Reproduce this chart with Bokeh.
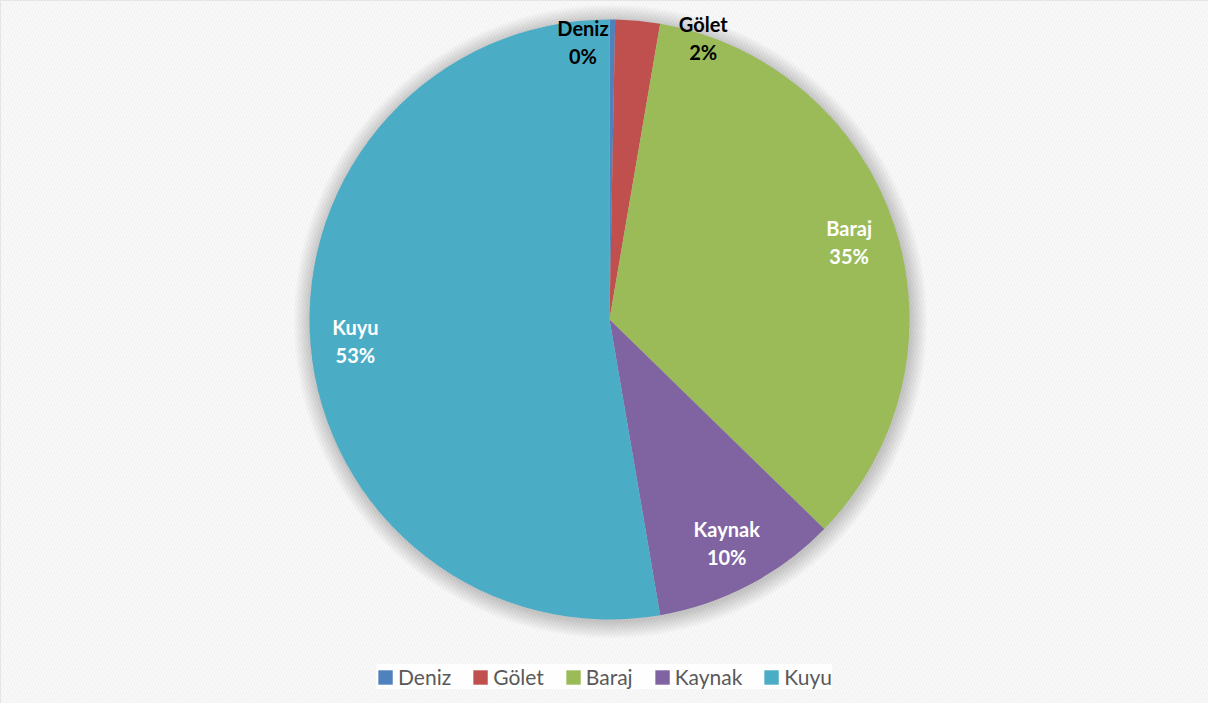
import math
from bokeh.plotting import figure
from bokeh.models import ColumnDataSource, Legend, LegendItem
from bokeh.core.properties import value
from bokeh.embed import file_html
from bokeh.resources import INLINE

# ---- data ----
categories = ["Deniz", "Gölet", "Baraj", "Kaynak", "Kuyu"]
shares = [0.3, 2.4, 34.6, 10.0, 52.7]
colors = ["#4F81BD", "#C0504D", "#9BBB59", "#8064A2", "#4BACC6"]

# label placement (fraction of radius, angular nudge in degrees)
label_rfrac = [0.93, 0.99, 0.84, 0.84, 0.85]
label_nudge = [-6.0, 13.0, 0.0, 0.0, 0.0]
label_colors = ["#000000", "#000000", "#FFFFFF", "#FFFFFF", "#FFFFFF"]

W, H = 1208, 703
CX, CY, R = 609, 384, 300

total = sum(shares)
starts, ends, lx, ly, pct = [], [], [], [], []
cum = 0.0
for i, s in enumerate(shares):
    a0 = math.pi / 2 - 2 * math.pi * cum / total
    cum += s
    a1 = math.pi / 2 - 2 * math.pi * cum / total
    starts.append(a0)
    ends.append(a1)
    mid = (a0 + a1) / 2 - math.radians(label_nudge[i])
    lx.append(CX + R * label_rfrac[i] * math.cos(mid))
    ly.append(CY + R * label_rfrac[i] * math.sin(mid))
    pct.append(f"{round(100 * s / total)}%")

src = ColumnDataSource(dict(name=categories, start=starts, end=ends,
                            color=colors, lx=lx, ly=ly, pct=pct,
                            tc=label_colors,
                            x=[CX] * 5, y=[CY] * 5))

p = figure(width=W, height=H, x_range=(0, W), y_range=(0, H),
           output_backend="svg", toolbar_location=None,
           min_border=0)
p.axis.visible = False
p.grid.visible = False
p.outline_line_color = "#D9D9D9"
p.background_fill_color = "white"
p.border_fill_color = "white"

# hatched background
p.quad(left=[0], right=[W], bottom=[0], top=[H], fill_color="white",
       line_color=None, hatch_pattern="left_diagonal_line",
       hatch_color="#F3F3F3", hatch_scale=6, hatch_weight=2)

# soft shadow
for k in range(1, 18):
    p.circle(x=[CX + 1], y=[CY - 2], radius=R + k, fill_color="black",
             fill_alpha=0.012, line_color=None)

w = p.wedge(x="x", y="y", radius=R, start_angle="start", end_angle="end",
            direction="clock", fill_color="color", line_color=None,
            source=src)

font = value("Lato")
p.text(x="lx", y="ly", text="name", source=src, text_font=font,
       text_font_style="bold", text_font_size="20px", text_color="tc",
       text_align="center", text_baseline="middle", y_offset=-14)
p.text(x="lx", y="ly", text="pct", source=src, text_font=font,
       text_font_style="bold", text_font_size="20px", text_color="tc",
       text_align="center", text_baseline="middle", y_offset=14)

items = [LegendItem(label=categories[i], renderers=[w], index=i)
         for i in range(len(categories))]
legend = Legend(items=items, orientation="horizontal",
                location="bottom_center", margin=14,
                label_text_font="Lato", label_text_font_size="21px",
                label_text_color="#595959", glyph_width=18, glyph_height=18,
                label_standoff=4, spacing=20, padding=10,
                background_fill_color="white", background_fill_alpha=0.85,
                border_line_color=None)
p.add_layout(legend)

open("out.html", "w").write(file_html(p, INLINE))
